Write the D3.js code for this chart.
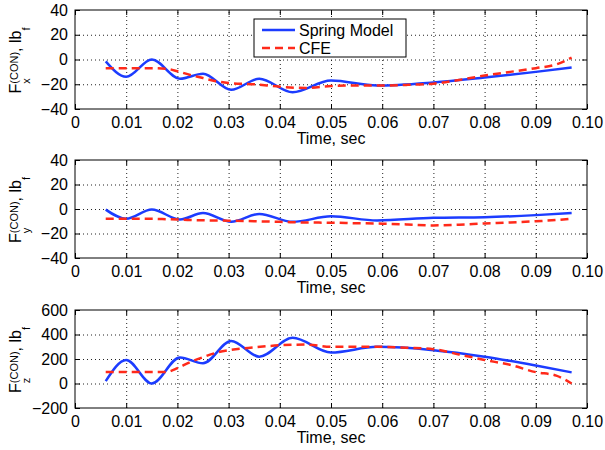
<!DOCTYPE html>
<html>
<head>
<meta charset="utf-8">
<script src="https://cdn.jsdelivr.net/npm/d3@7"></script>
<style>
  body { margin: 0; background: #fff; }
  svg text { font-family: "Liberation Sans", Arial, Helvetica, sans-serif; fill: #000; }
  .grid line { stroke: #222; stroke-dasharray: 1,3; stroke-width: 1; }
  .grid .domain { display: none; }
  .ax .domain { display: none; }
  .ax line { stroke: #000; }
</style>
</head>
<body>
<script>
// spring model samples (extrema + a few points on the tail)
const springT  = [0.006, 0.010, 0.015, 0.0205, 0.025, 0.0305, 0.036, 0.0425, 0.050, 0.059, 0.070, 0.080, 0.090, 0.097];
const springFx = [-1.5, -14, 0, -15.5, -11.5, -24.5, -15.5, -26.5, -17, -21, -18.5, -14.5, -10, -6.5];
const springFy = [-0.5, -8, -0.5, -8.5, -3.3, -10.4, -4, -10.5, -6, -9.3, -7.2, -6.7, -5, -3.3];
const springFz = [19, 192, 0, 213, 165, 347, 219, 373, 253, 299, 272, 219, 147, 91];

// CFE samples
const cfeT  = [0.006, 0.010, 0.015, 0.018, 0.020, 0.0225, 0.025, 0.0275, 0.030, 0.035, 0.040, 0.045, 0.050, 0.055, 0.060, 0.065, 0.070, 0.075, 0.080, 0.085, 0.090, 0.094, 0.097];
const cfeFx = [-7, -7, -7, -7.5, -9.5, -12.5, -15, -17.5, -19, -20, -22, -23, -21.5, -21, -21, -20.5, -19.5, -16.5, -13, -10, -7, -4, 1.5];
const cfeFy = [-8, -8, -8, -8.3, -8.5, -9, -9.2, -9.4, -9.5, -10, -10.5, -11, -11.2, -11.6, -12, -12.6, -13.4, -12.8, -11.8, -11, -10, -9, -7.8];
const cfeFz = [93, 93, 93, 95, 125, 175, 215, 250, 272, 295, 312, 318, 300, 300, 299, 292, 280, 237, 192, 152, 93, 64, 0];

const xTicks = [0, 0.01, 0.02, 0.03, 0.04, 0.05, 0.06, 0.07, 0.08, 0.09, 0.10];
const xTickLabels = ["0", "0.01", "0.02", "0.03", "0.04", "0.05", "0.06", "0.07", "0.08", "0.09", "0.10"];
const yTicksXY = [-40, -20, 0, 20, 40];
const yTicksZ = [-200, 0, 200, 400, 600];
const seriesNames = ["Spring Model", "CFE"];
const xTitle = "Time, sec";

const blue = "#1c3cff", red = "#ff2a1a";

const W = 605, H = 450;
const left = 75, right = 587;
const panels = [
  { top: 10,  bottom: 109, dom: [-40, 40],   ticks: yTicksXY, sub: "x", spring: springFx, cfe: cfeFx },
  { top: 160, bottom: 258, dom: [-40, 40],   ticks: yTicksXY, sub: "y", spring: springFy, cfe: cfeFy },
  { top: 310, bottom: 408, dom: [-200, 600], ticks: yTicksZ,  sub: "z", spring: springFz, cfe: cfeFz }
];

const svg = d3.select("body").append("svg")
  .attr("width", W).attr("height", H);

const x = d3.scaleLinear().domain([0, 0.1]).range([left, right]);

panels.forEach((p, pi) => {
  const h = p.bottom - p.top;
  const y = d3.scaleLinear().domain(p.dom).range([h, 0]);
  const g = svg.append("g").attr("transform", `translate(0,${p.top})`);

  // dotted grid
  g.append("g").attr("class", "grid")
    .attr("transform", `translate(0,${h})`)
    .call(d3.axisBottom(x).tickValues(xTicks.slice(1, -1)).tickSize(-h).tickFormat(""));
  g.append("g").attr("class", "grid")
    .attr("transform", `translate(${left},0)`)
    .call(d3.axisLeft(y).tickValues(p.ticks.slice(1, -1)).tickSize(-(right - left)).tickFormat(""));

  // data lines
  const line = vals => d3.line()
    .x((d, i) => x(d))
    .y((d, i) => y(vals[i]))
    .curve(d3.curveMonotoneX);

  g.append("path")
    .attr("d", line(p.spring)(springT))
    .attr("fill", "none").attr("stroke", blue).attr("stroke-width", 2.5);
  g.append("path")
    .attr("d", line(p.cfe)(cfeT))
    .attr("fill", "none").attr("stroke", red).attr("stroke-width", 2.5)
    .attr("stroke-dasharray", "8,5");

  // frame
  g.append("rect")
    .attr("x", left).attr("y", 0)
    .attr("width", right - left).attr("height", h)
    .attr("fill", "none").attr("stroke", "#000").attr("stroke-width", 1);

  // inward ticks + labels
  const xb = g.append("g").attr("class", "ax")
    .attr("transform", `translate(0,${h})`)
    .call(d3.axisBottom(x).tickValues(xTicks).tickSize(-5).tickPadding(8)
      .tickFormat((d, i) => xTickLabels[i]));
  xb.selectAll("text").style("font-size", "16px");
  g.append("g").attr("class", "ax")
    .call(d3.axisTop(x).tickValues(xTicks).tickSize(-5).tickFormat(""));

  const yl = g.append("g").attr("class", "ax")
    .attr("transform", `translate(${left},0)`)
    .call(d3.axisLeft(y).tickValues(p.ticks).tickSize(-5).tickPadding(7));
  yl.selectAll("text").style("font-size", "16px");
  g.append("g").attr("class", "ax")
    .attr("transform", `translate(${right},0)`)
    .call(d3.axisRight(y).tickValues(p.ticks).tickSize(-5).tickFormat(""));

  // x title
  g.append("text")
    .attr("x", (left + right) / 2).attr("y", h + 35)
    .attr("text-anchor", "middle")
    .style("font-size", "16px")
    .text(xTitle);

  // y label: F_sub^(CON), lb_f  (rotated)
  const lab = svg.append("g")
    .attr("transform", `translate(21,${(p.top + p.bottom) / 2 + 1}) rotate(-90)`);
  const inner = lab.append("g");
  let u = 0;
  const put = (txt, size, v) => {
    const t = inner.append("text").attr("x", u).attr("y", v)
      .style("font-size", size + "px").text(txt);
    return t.node().getComputedTextLength();
  };
  u += put("F", 16, 0);
  const wSub = put(p.sub, 11, 9);
  const wSup = put("(CON)", 11, -3);
  u += Math.max(wSub, wSup);
  u += put(", lb", 16, 0);
  u += put("f", 11, 9);
  inner.attr("transform", `translate(${-u / 2},0)`);

  // legend (top panel only)
  if (pi === 0) {
    const lg = g.append("g").attr("transform", "translate(254,9)");
    lg.append("rect").attr("width", 152).attr("height", 38)
      .attr("fill", "#fff").attr("stroke", "#000").attr("stroke-width", 1);
    [blue, red].forEach((c, k) => {
      const yy = 11 + k * 18;
      lg.append("line").attr("x1", 8).attr("x2", 41).attr("y1", yy).attr("y2", yy)
        .attr("stroke", c).attr("stroke-width", 2.5)
        .attr("stroke-dasharray", k === 1 ? "8,5" : null);
      lg.append("text").attr("x", 45).attr("y", yy + 6)
        .style("font-size", "16px").text(seriesNames[k]);
    });
  }
});
</script>
</body>
</html>
